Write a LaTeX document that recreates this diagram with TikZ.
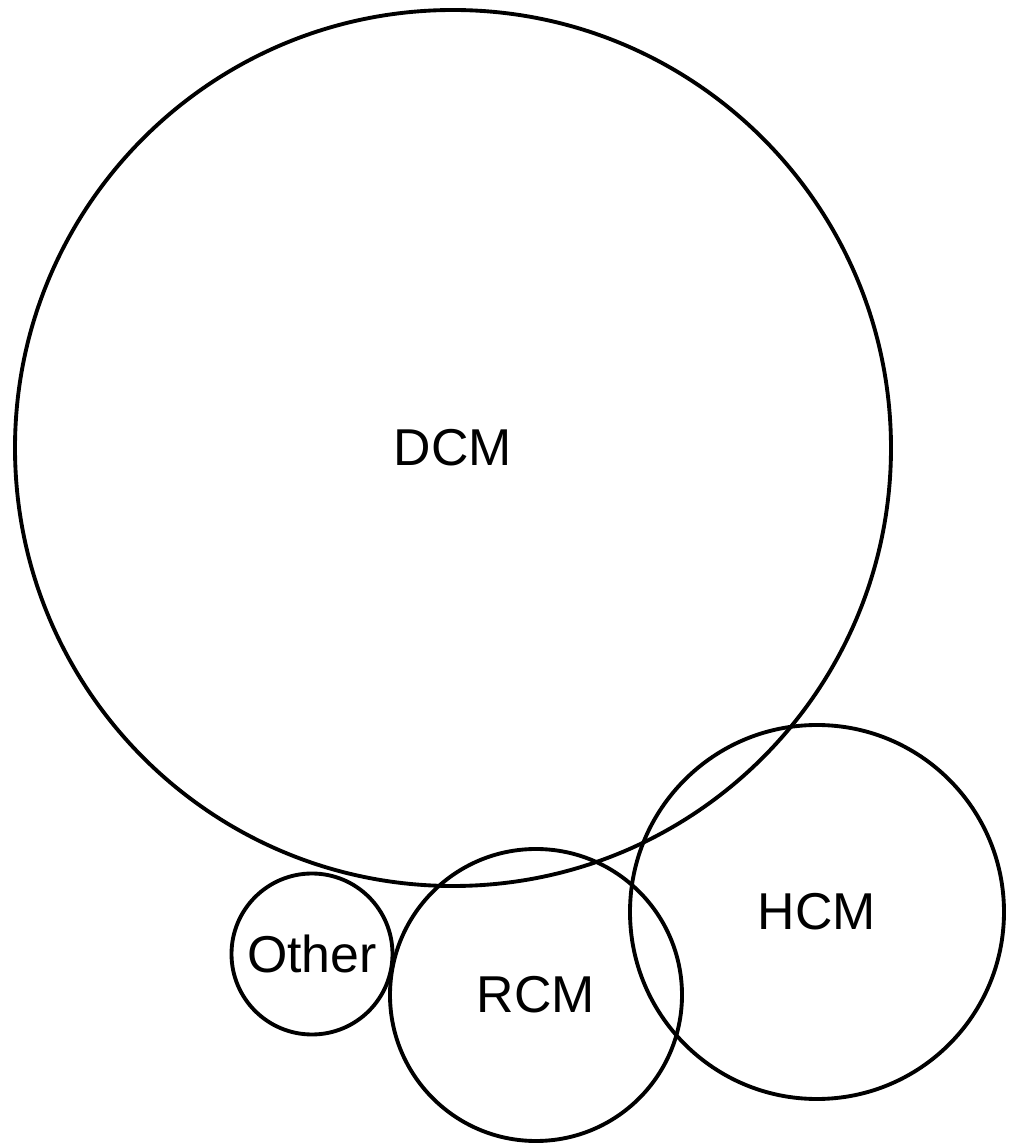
\documentclass[tikz,border=0pt]{standalone}
\usepackage{fontspec}
\setmainfont{Liberation Sans}

\begin{document}
\begin{tikzpicture}
        % Define styles for nodes
        \tikzstyle{group} = [circle, draw, line width=2.2pt, inner sep=0pt, font=\fontsize{29.5}{35}\selectfont]

        \useasboundingbox (0,0) rectangle (20.22,22.88);

        % Nodes
        \node[group, minimum size=17.52cm] (dcm) at (9.06,13.92) {DCM};
        \node[group, minimum size=7.48cm] (hcm) at (16.34,4.64) {HCM};
        \node[group, minimum size=5.84cm] (rcm) at (10.72,2.98) {RCM};
        \node[group, minimum size=3.22cm] (other) at (6.24,3.80) {Other};
\end{tikzpicture}
\end{document}
